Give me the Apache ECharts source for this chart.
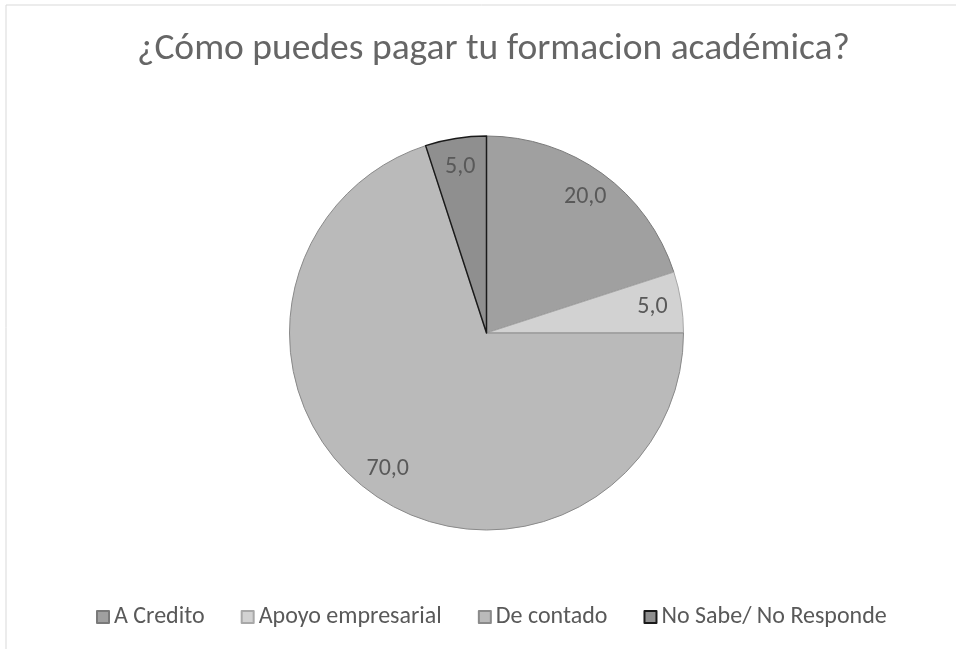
<!DOCTYPE html>
<html>
<head>
<meta charset="utf-8">
<script src="https://cdn.jsdelivr.net/npm/echarts@6/dist/echarts.min.js"></script>
<style>
  html, body { margin: 0; padding: 0; background: #fff; }
  #chart { width: 956px; height: 649px; }
</style>
</head>
<body>
<div id="chart"></div>
<script>
// data
const categories = ['A Credito', 'Apoyo empresarial', 'De contado', 'No Sabe/ No Responde']
const values = [20.0, 5.0, 70.0, 5.0]
const fills = ['#a0a0a0', '#d2d2d2', '#bababa', '#8f8f8f']
const borders = ['#7a7a7a', '#a8a8a8', '#8a8a8a', '#1a1a1a']

const fontFamily = 'Carlito, "Open Sans", "Noto Sans", sans-serif'

const chart = echarts.init(document.getElementById('chart'))

const pieData = categories.map((name, i) => ({
    name: name,
    value: values[i],
    itemStyle: {color: fills[i], borderColor: borders[i], borderWidth: i === 3 ? 1.5 : 1}
}))

const option = {
    backgroundColor: '#fff',
    animation: false,
    title: {
        text: '¿Cómo puedes pagar tu formacion académica?',
        left: 132,
        top: 26,
        textStyle: {color: '#666666', fontSize: 37.5, fontWeight: 'normal', fontFamily: fontFamily}
    },
    legend: {
        data: categories,
        top: 600,
        left: 91,
        icon: 'rect',
        itemWidth: 12,
        itemHeight: 12,
        itemGap: 36,
        textStyle: {color: '#595959', fontSize: 24, fontFamily: fontFamily}
    },
    graphic: [{
        type: 'rect',
        shape: {x: 6, y: 5, width: 1000, height: 700},
        style: {fill: 'none', stroke: '#d9d9d9', lineWidth: 1},
        silent: true
    }],
    series: [
        {
            type: 'pie',
            center: [486.5, 333],
            radius: [0, 197],
            startAngle: 90,
            clockwise: true,
            label: {show: false},
            labelLine: {show: false},
            emphasis: {disabled: true},
            data: pieData
        },
        {
            // label-only ring so values sit near the rim like in the source
            type: 'pie',
            center: [486.5, 333],
            radius: [131, 199],
            startAngle: 90,
            clockwise: true,
            silent: true,
            legendHoverLink: false,
            itemStyle: {color: 'rgba(0,0,0,0)', borderWidth: 0},
            label: {
                show: true,
                position: 'inside',
                color: '#595959',
                fontSize: 24,
                fontFamily: fontFamily,
                formatter: (p) => p.value.toFixed(1).replace('.', ',')
            },
            labelLine: {show: false},
            emphasis: {disabled: true},
            data: categories.map((name, i) => ({name: name + ' ', value: values[i]}))
        }
    ]
}

chart.setOption(option)
</script>
</body>
</html>
